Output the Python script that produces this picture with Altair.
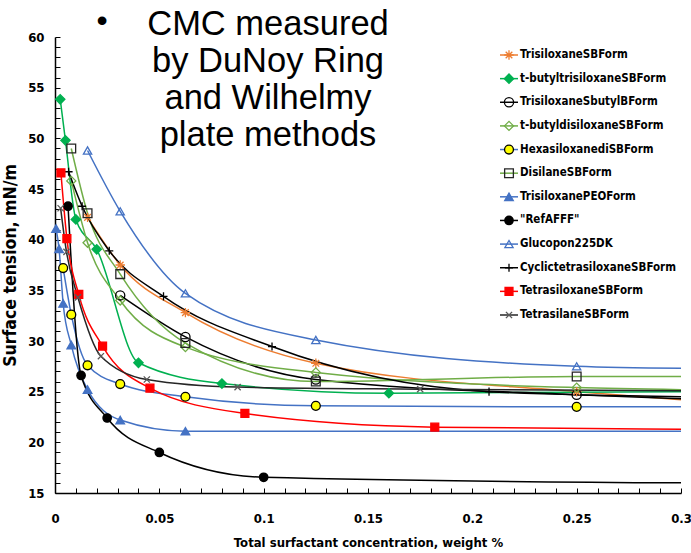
import altair as alt
import pandas as pd

# Surface tension (mN/m) versus total surfactant concentration (weight %)
series_names = [
    "TrisiloxaneSBForm",
    "t-butyltrisiloxaneSBForm",
    "TrisiloxaneSbutylBForm",
    "t-butyldisiloxaneSBForm",
    "HexasiloxanediSBForm",
    "DisilaneSBForm",
    "TrisiloxanePEOForm",
    "\"RefAFFF\"",
    "Glucopon225DK",
    "CyclictetrasiloxaneSBForm",
    "TetrasiloxaneSBForm",
    "TetrasilaneSBForm",
]

conc_trisiloxane_sb = [0.0156, 0.03125, 0.0625, 0.125, 0.25]
st_trisiloxane_sb = [42.2, 37.5, 32.8, 27.8, 25.0]

conc_tbutyltrisiloxane = [0.0025, 0.005, 0.01, 0.02, 0.04, 0.08, 0.16]
st_tbutyltrisiloxane = [53.85, 49.8, 42.0, 39.05, 27.85, 25.8, 24.85]

conc_trisiloxane_sbutylb = [0.03125, 0.0625, 0.125, 0.25]
st_trisiloxane_sbutylb = [34.5, 30.4, 26.2, 24.7]

conc_tbutyldisiloxane = [0.0078, 0.0156, 0.03125, 0.0625, 0.125, 0.25]
st_tbutyldisiloxane = [45.8, 39.7, 34.0, 29.4, 26.9, 25.4]

conc_hexasiloxane = [0.0039, 0.0078, 0.0156, 0.03125, 0.0625, 0.125, 0.25]
st_hexasiloxane = [37.2, 32.6, 27.6, 25.75, 24.5, 23.6, 23.5]

conc_disilane = [0.0078, 0.0156, 0.03125, 0.0625, 0.125, 0.25]
st_disilane = [49.0, 42.6, 36.6, 29.8, 26.0, 26.5]

conc_peo = [0.0005, 0.00195, 0.0039, 0.0078, 0.0156, 0.03125, 0.0625]
st_peo = [41.1, 39.1, 33.7, 29.6, 25.2, 22.2, 21.1]

conc_refafff = [0.00625, 0.0125, 0.025, 0.05, 0.1]
st_refafff = [43.3, 26.6, 22.4, 19.0, 16.55]

conc_glucopon = [0.0156, 0.03125, 0.0625, 0.125, 0.25]
st_glucopon = [48.8, 42.8, 34.7, 30.1, 27.5]

conc_cyclic = [0.0065, 0.013, 0.026, 0.052, 0.104, 0.208]
st_cyclic = [46.7, 43.3, 38.9, 34.4, 29.45, 25.0]

conc_tetrasiloxane = [0.00284, 0.0057, 0.0114, 0.0228, 0.0455, 0.091, 0.182]
st_tetrasiloxane = [46.6, 40.1, 34.6, 29.5, 25.35, 22.85, 21.5]

conc_tetrasilane = [0.0027, 0.0055, 0.011, 0.022, 0.044, 0.0875, 0.175]
st_tetrasilane = [43.1, 38.8, 34.3, 28.5, 26.2, 25.45, 25.25]

# where each smoothed curve ends at the right edge of the plot
curve_end_conc = 0.3
curve_end_st = [24.2, 25.0, 24.3, 25.2, 23.5, 26.5, 21.1, 16.0, 27.3, 24.5, 21.3, 25.1]

series_data = [
    (conc_trisiloxane_sb, st_trisiloxane_sb),
    (conc_tbutyltrisiloxane, st_tbutyltrisiloxane),
    (conc_trisiloxane_sbutylb, st_trisiloxane_sbutylb),
    (conc_tbutyldisiloxane, st_tbutyldisiloxane),
    (conc_hexasiloxane, st_hexasiloxane),
    (conc_disilane, st_disilane),
    (conc_peo, st_peo),
    (conc_refafff, st_refafff),
    (conc_glucopon, st_glucopon),
    (conc_cyclic, st_cyclic),
    (conc_tetrasiloxane, st_tetrasiloxane),
    (conc_tetrasilane, st_tetrasilane),
]

point_rows, line_rows = [], []
for name, (xs, ys), end in zip(series_names, series_data, curve_end_st):
    for x, y in zip(xs, ys):
        point_rows.append({"series": name, "conc": x, "st": y})
        line_rows.append({"series": name, "conc": x, "st": y})
    line_rows.append({"series": name, "conc": curve_end_conc, "st": end})
points_df = pd.DataFrame(point_rows)
lines_df = pd.DataFrame(line_rows)
legend_df = pd.DataFrame({"series": series_names, "row": list(range(len(series_names)))})

# styling of each series
ASTERISK = "M-1,0L1,0M0,-1L0,1M-0.7,-0.7L0.7,0.7M-0.7,0.7L0.7,-0.7"
PLUS = "M-1,0L1,0M0,-1L0,1"
CROSS = "M-0.8,-0.8L0.8,0.8M-0.8,0.8L0.8,-0.8"
line_colors = ["#ED7D31", "#00B050", "#000000", "#70AD47", "#4472C4", "#70AD47",
               "#4472C4", "#000000", "#4472C4", "#000000", "#FF0000", "#262626"]
marker_shapes = [ASTERISK, "diamond", "circle", "diamond", "circle", "square",
                 "triangle-up", "circle", "triangle-up", PLUS, "square", CROSS]
marker_fills = ["transparent", "#00B050", "transparent", "transparent", "#FFFF00", "transparent",
                "#4472C4", "#000000", "transparent", "transparent", "#FF0000", "transparent"]
marker_strokes = ["#ED7D31", "#00B050", "#000000", "#70AD47", "#000000", "#262626",
                  "#4472C4", "#000000", "#4472C4", "#000000", "#FF0000", "#595959"]
marker_sizes = [90, 60, 60, 60, 64, 70, 80, 60, 90, 110, 100, 80]

color_scale = alt.Scale(domain=series_names, range=line_colors)
shape_scale = alt.Scale(domain=series_names, range=marker_shapes)
fill_scale = alt.Scale(domain=series_names, range=marker_fills)
stroke_scale = alt.Scale(domain=series_names, range=marker_strokes)
size_scale = alt.Scale(domain=series_names, range=marker_sizes)

W, H = 626, 456
LABEL_FONT = "Liberation Sans Narrow, DejaVu Sans Condensed, sans-serif"

x_scale = alt.Scale(domain=[0, 0.3], nice=False, zero=False)
y_scale = alt.Scale(domain=[15, 60], nice=False, zero=False)

x_main = alt.X(
    "conc:Q", scale=x_scale,
    axis=alt.Axis(values=[0, 0.05, 0.1, 0.15, 0.2, 0.25, 0.3], format="~g", ticks=False,
                  grid=False, domainColor="black", domainWidth=1.5, labelPadding=19,
                  labelFont=LABEL_FONT, labelFontSize=13, labelFontWeight="bold",
                  labelColor="black", labelFlush=False,
                  title="Total surfactant concentration, weight %", titleFont=LABEL_FONT,
                  titleFontSize=13, titleFontWeight="bold", titleColor="black", titlePadding=11),
)
y_main = alt.Y(
    "st:Q", scale=y_scale,
    axis=alt.Axis(values=list(range(15, 61, 5)), ticks=False, grid=False,
                  domainColor="black", domainWidth=1.5, labelPadding=11,
                  labelFont=LABEL_FONT, labelFontSize=13, labelFontWeight="bold",
                  labelColor="black", title="Surface tension, mN/m", titleFont=LABEL_FONT,
                  titleFontSize=17.5, titleFontWeight="bold", titleColor="black", titlePadding=8),
)

curves = alt.Chart(lines_df).mark_line(interpolate="monotone", strokeWidth=1.5).encode(
    x=x_main,
    y=y_main,
    color=alt.Color("series:N", scale=color_scale, legend=None),
)

# inward tick marks along both axes
x_ticks = alt.X("conc:Q", scale=x_scale,
                axis=alt.Axis(orient="top", offset=-H, values=[round(i * 0.01, 2) for i in range(31)],
                              labels=False, domain=False, grid=False, tickSize=5, tickColor="black",
                              tickWidth=1, title=None))
y_ticks = alt.Y("st:Q", scale=y_scale,
                axis=alt.Axis(orient="right", offset=-W, values=list(range(15, 61)),
                              labels=False, domain=False, grid=False, tickSize=5, tickColor="black",
                              tickWidth=1, title=None))

markers = alt.Chart(points_df).mark_point(filled=False, opacity=1, strokeWidth=1.3).encode(
    x=x_ticks,
    y=y_ticks,
    shape=alt.Shape("series:N", scale=shape_scale, legend=None),
    fill=alt.Fill("series:N", scale=fill_scale, legend=None),
    stroke=alt.Stroke("series:N", scale=stroke_scale, legend=None),
    size=alt.Size("series:N", scale=size_scale, legend=None),
)

data_layer = alt.layer(curves, markers).resolve_axis(x="independent", y="independent")

# legend drawn inside the plot, top right
row_y = alt.Y("row:Q", scale=alt.Scale(domain=[0, 11], range=[18, 278]), axis=None)
legend_lines = alt.Chart(legend_df).mark_rule(strokeWidth=1.5).encode(
    x=alt.value(445), x2=alt.value(463), y=row_y,
    color=alt.Color("series:N", scale=color_scale, legend=None),
)
legend_marks = alt.Chart(legend_df).mark_point(filled=False, opacity=1, strokeWidth=1.3).encode(
    x=alt.value(454), y=row_y,
    shape=alt.Shape("series:N", scale=shape_scale, legend=None),
    fill=alt.Fill("series:N", scale=fill_scale, legend=None),
    stroke=alt.Stroke("series:N", scale=stroke_scale, legend=None),
    size=alt.Size("series:N", scale=size_scale, legend=None),
)
legend_text = alt.Chart(legend_df).mark_text(
    align="left", baseline="middle", font=LABEL_FONT, fontSize=11.5, fontWeight="bold", color="black"
).encode(x=alt.value(465), y=row_y, text="series:N")

legend_layer = alt.layer(legend_lines, legend_marks, legend_text)

headline = alt.Chart(legend_df).transform_filter("datum.row == 0").mark_text(
    align="center", baseline="alphabetic", font="Liberation Sans, Arial, sans-serif",
    fontSize=34.5, lineHeight=37, color="black"
).encode(
    x=alt.value(213), y=alt.value(-2),
    text=alt.value(["CMC measured", "by DuNoy Ring", "and Wilhelmy", "plate methods"]),
)
bullet = alt.Chart(legend_df).transform_filter("datum.row == 0").mark_text(
    align="center", baseline="middle", font="Liberation Sans, Arial, sans-serif",
    fontSize=32, color="black"
).encode(x=alt.value(47), y=alt.value(-16), text=alt.value("•"))

chart = alt.layer(data_layer, legend_layer, headline, bullet).resolve_scale(
    y="independent"
).properties(
    width=W, height=H,
    autosize=alt.AutoSizeParams(type="none"),
    padding={"left": 55, "top": 37, "right": 10, "bottom": 60},
    background="white",
).configure_view(stroke=None)

chart.save("out.html", embed_options={"renderer": "svg", "actions": False})
